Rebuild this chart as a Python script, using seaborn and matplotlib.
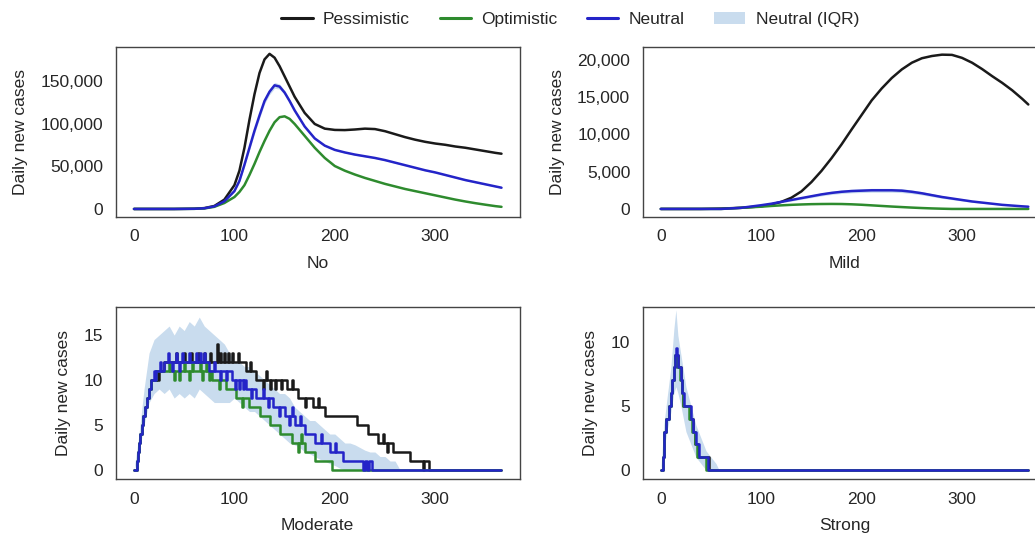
import matplotlib
matplotlib.use("Agg")
import matplotlib.pyplot as plt
from matplotlib.lines import Line2D
from matplotlib.patches import Patch
from matplotlib.ticker import StrMethodFormatter
import pandas as pd
import seaborn as sns

# --- Data (day, daily new cases) ---
SCENARIOS = ["Pessimistic", "Optimistic", "Neutral"]

# "No" intervention: smooth curves sampled at these days
no_days = [0, 20, 40, 60, 70, 80, 90, 100, 105, 110, 115, 120, 125, 130, 135, 140, 145,
           150, 155, 160, 170, 180, 190, 200, 210, 220, 230, 240, 250, 260, 270, 280,
           290, 300, 310, 320, 330, 340, 350, 360, 366]
no_pess = [0, 0, 0, 300, 1000, 3500, 11000, 28000, 45000, 72000, 105000, 135000, 160000,
           176000, 182500, 178000, 168000, 156000, 144000, 132000, 113000, 100000, 94500,
           93000, 92800, 93500, 94500, 94000, 91500, 88000, 84500, 81500, 79000, 77000,
           75500, 73500, 72000, 70000, 68000, 66000, 65000]
no_opt = [0, 0, 0, 150, 600, 2500, 7000, 14000, 20000, 28000, 40000, 53000, 67000, 80000,
          92000, 102000, 108000, 109000, 106000, 100000, 86000, 72000, 60000, 50500, 45000,
          40500, 36500, 33000, 29500, 26500, 23500, 21000, 18500, 16000, 13500, 11000, 8800,
          6800, 5000, 3300, 2500]
no_neut = [0, 0, 0, 200, 800, 3000, 9000, 21000, 33000, 52000, 72000, 92000, 110000, 127000,
           138000, 145500, 144000, 137000, 127000, 116000, 97000, 83000, 74500, 69500, 66500,
           64000, 62000, 60000, 57500, 54500, 51500, 48500, 45500, 43000, 40000, 37000, 34000,
           31500, 29000, 26500, 25000]
no_iqr_lo = [0, 0, 0, 180, 750, 2800, 8500, 19800, 31200, 49500, 69000, 88500, 106500,
             123500, 134500, 142000, 141000, 134500, 125000, 114500, 95800, 82000, 73800,
             68800, 65800, 63300, 61300, 59300, 56800, 53800, 50800, 47800, 44800, 42300,
             39300, 36300, 33300, 30800, 28300, 25800, 24300]
no_iqr_hi = [0, 0, 0, 220, 850, 3200, 9500, 22200, 34800, 54500, 75000, 95500, 113500,
             130500, 141500, 149000, 147000, 139500, 129000, 117500, 98200, 84000, 75200,
             70200, 67200, 64700, 62700, 60700, 58200, 55200, 52200, 49200, 46200, 43700,
             40700, 37700, 34700, 32200, 29700, 27200, 25700]

# "Mild" intervention
mild_days = [0, 20, 40, 60, 80, 100, 110, 120, 130, 140, 150, 160, 170, 180, 190, 200, 210,
             220, 230, 240, 250, 260, 270, 280, 290, 300, 310, 320, 330, 340, 350, 360, 366]
mild_pess = [0, 0, 0, 50, 150, 350, 600, 950, 1500, 2350, 3600, 5100, 6800, 8650, 10650,
             12600, 14550, 16150, 17550, 18700, 19600, 20200, 20500, 20680, 20650, 20250,
             19600, 18750, 17800, 16900, 15900, 14750, 14000]
mild_opt = [0, 0, 0, 0, 150, 300, 400, 480, 550, 600, 640, 660, 670, 660, 620, 560, 480,
            400, 320, 250, 180, 120, 70, 30, 0, 0, 0, 0, 0, 0, 0, 0, 0]
mild_neut = [0, 0, 0, 0, 150, 500, 700, 950, 1200, 1450, 1700, 1950, 2150, 2300, 2400, 2450,
             2500, 2500, 2500, 2450, 2300, 2100, 1850, 1600, 1400, 1200, 1000, 850, 700, 550,
             450, 350, 300]
mild_iqr_lo = [0, 0, 0, 0, 100, 420, 600, 830, 1060, 1290, 1520, 1750, 1940, 2070, 2160,
               2200, 2240, 2240, 2240, 2190, 2060, 1880, 1650, 1420, 1240, 1060, 880, 750,
               620, 480, 390, 300, 250]
mild_iqr_hi = [0, 0, 0, 0, 200, 580, 800, 1070, 1340, 1610, 1880, 2150, 2360, 2530, 2640,
               2700, 2760, 2760, 2760, 2710, 2540, 2320, 2050, 1780, 1560, 1340, 1120, 950,
               780, 620, 510, 400, 350]

# "Moderate" intervention: step series as (day, value) change points
mod_pess = [(0, 0), (3, 1), (4, 2), (5, 3), (6, 4), (8, 5), (9, 6), (11, 7), (13, 8), (15, 9),
            (17, 10), (22, 11), (23, 10), (25, 11), (30, 12), (42, 13), (43, 12), (50, 13),
            (51, 12), (57, 13), (58, 12), (64, 13), (65, 12), (70, 13), (71, 12), (76, 13),
            (77, 12), (83, 14), (84, 12), (86, 13), (87, 12), (90, 13), (91, 12), (94, 13),
            (95, 12), (98, 13), (99, 12), (104, 13), (105, 12), (112, 11), (116, 12),
            (117, 11), (122, 10), (128, 9), (129, 10), (131, 11), (132, 10), (135, 9),
            (136, 10), (140, 9), (141, 10), (146, 9), (147, 10), (152, 9), (157, 10),
            (158, 9), (163, 8), (170, 7), (171, 8), (178, 7), (183, 8), (184, 7), (190, 6),
            (222, 5), (233, 4), (243, 3), (248, 4), (249, 3), (252, 2), (253, 3), (258, 2),
            (275, 1), (288, 0), (289, 1), (294, 0), (366, 0)]
mod_opt = [(0, 0), (3, 1), (4, 2), (5, 3), (6, 4), (8, 5), (9, 6), (11, 7), (13, 8), (15, 9),
           (17, 10), (22, 11), (35, 12), (36, 11), (40, 10), (41, 11), (45, 10), (46, 11),
           (50, 12), (51, 11), (55, 10), (56, 11), (58, 12), (59, 11), (66, 12), (67, 11),
           (68, 10), (69, 11), (72, 12), (73, 11), (75, 10), (76, 11), (78, 10), (85, 9),
           (86, 10), (92, 9), (102, 8), (108, 7), (109, 8), (115, 7), (125, 6), (135, 5),
           (145, 4), (157, 3), (163, 2), (164, 3), (166, 4), (167, 3), (170, 2), (180, 1),
           (197, 0), (366, 0)]
mod_neut = [(0, 0), (3, 1), (4, 2), (5, 3), (6, 4), (8, 5), (9, 6), (11, 7), (13, 8), (15, 9),
            (17, 10), (20, 11), (21, 10), (22, 11), (26, 12), (27, 11), (30, 12), (34, 13),
            (35, 12), (38, 11), (39, 12), (42, 13), (43, 12), (45, 11), (46, 12), (48, 13),
            (49, 12), (55, 13), (56, 12), (62, 13), (63, 12), (66, 13), (67, 12), (70, 13),
            (71, 12), (75, 11), (80, 12), (81, 11), (86, 10), (87, 11), (92, 10), (93, 11),
            (98, 10), (101, 9), (102, 10), (105, 9), (106, 10), (109, 9), (110, 10), (112, 9),
            (117, 8), (118, 9), (122, 8), (128, 9), (129, 8), (133, 7), (134, 8), (138, 7),
            (144, 6), (145, 7), (150, 6), (154, 5), (155, 6), (157, 7), (158, 6), (160, 5),
            (165, 6), (166, 5), (170, 4), (180, 3), (186, 4), (187, 3), (195, 2), (200, 3),
            (201, 2), (208, 1), (228, 0), (230, 1), (232, 0), (234, 1), (237, 0), (366, 0)]
mod_iqr_days = [0, 5, 10, 15, 20, 25, 30, 35, 40, 45, 50, 55, 60, 65, 70, 75, 80, 85, 90, 95,
                100, 105, 110, 115, 120, 125, 130, 135, 140, 145, 150, 155, 160, 165, 170,
                175, 180, 185, 190, 195, 200, 205, 210, 215, 220, 225, 230, 235, 240, 245,
                250, 255, 260, 265]
mod_iqr_hi = [0, 4, 9, 13, 14.5, 15, 15.5, 16, 15, 16, 15.5, 16.5, 16, 17, 16, 15.5, 15, 14.5,
              14, 13, 12, 12, 11.5, 11.5, 11, 10.5, 10, 9.5, 9, 8.5, 8.5, 8, 7, 6.5, 6, 5.5,
              5.5, 5, 4.5, 4, 4, 3.5, 3, 3, 2.8, 2.5, 2.2, 2, 2, 1.5, 1.5, 1, 1, 0]
mod_iqr_lo = [0, 2, 5, 7.5, 8.5, 9, 8.5, 9, 8, 8.5, 8, 8.5, 8, 9, 8.5, 8, 7.5, 7.5, 7.5, 7.5,
              8, 7.5, 7, 6.5, 6.5, 6, 5.5, 5, 4.5, 4, 3.5, 3, 2.8, 2.5, 2, 1.8, 1.5, 1.2, 1,
              0.7, 0.5, 0.2, 0, 0, 0, 0, 0, 0, 0, 0, 0, 0, 0, 0]

# "Strong" intervention
strong_pess = [(0, 0), (2, 1), (3, 3), (5, 4), (8, 5), (10, 6), (11, 7), (13, 8), (14, 9),
               (17, 8), (20, 7), (21, 6), (22, 5), (29, 4), (32, 3), (34, 2), (37, 1),
               (48, 0), (366, 0)]
strong_opt = [(0, 0), (2, 1), (3, 3), (5, 4), (8, 5), (10, 6), (11, 7), (13, 8), (14, 9),
              (16, 8), (19, 7), (21, 6), (22, 5), (28, 4), (31, 3), (34, 2), (36, 1),
              (45, 0), (366, 0)]
strong_neut = [(0, 0), (2, 1), (3, 3), (5, 4), (8, 5), (10, 6), (11, 7), (13, 8), (14, 9),
               (15, 9.5), (16, 9), (17, 8), (20, 7), (21, 6), (23, 5), (30, 4), (32, 3),
               (35, 2), (38, 1), (47, 0), (366, 0)]
strong_iqr_days = [0, 3, 6, 10, 13, 15, 17, 20, 25, 30, 35, 40, 45, 50, 55, 58]
strong_iqr_hi = [0, 3.5, 5.5, 8, 11, 12.5, 10.5, 9, 6.5, 5, 3.5, 2.5, 1.5, 1, 0.5, 0]
strong_iqr_lo = [0, 1.5, 3, 4.5, 6, 6.5, 6, 5, 3, 2, 1, 0.5, 0, 0, 0, 0]

COLORS = {"Pessimistic": "#1a1a1a", "Optimistic": "#2e8b2e", "Neutral": "#2424c8"}
IQR_COLOR = "#c9dcee"


def smooth_frame(days, pess, opt, neut):
    rows = []
    for name, vals in zip(SCENARIOS, [pess, opt, neut]):
        rows += [(name, d, v) for d, v in zip(days, vals)]
    return pd.DataFrame(rows, columns=["scenario", "day", "cases"])


def step_frame(pess, opt, neut):
    rows = []
    for name, pts in zip(SCENARIOS, [pess, opt, neut]):
        rows += [(name, d, v) for d, v in pts]
    return pd.DataFrame(rows, columns=["scenario", "day", "cases"])


def draw_panel(ax, df, band, steps, xlabel, yticks, ylim, fmt):
    ax.fill_between(band[0], band[1], band[2], color=IQR_COLOR, lw=0, zorder=1)
    sns.lineplot(data=df, x="day", y="cases", hue="scenario", hue_order=SCENARIOS,
                 palette=COLORS, lw=1.8, legend=False, ax=ax, estimator=None, sort=False,
                 drawstyle="steps-post" if steps else "default", zorder=2)
    ax.set_xlim(-18, 384)
    ax.set_ylim(*ylim)
    ax.set_xticks([0, 100, 200, 300])
    ax.set_yticks(yticks)
    ax.yaxis.set_major_formatter(StrMethodFormatter(fmt))
    ax.set_xlabel(xlabel, fontsize=12.5, labelpad=8)
    ax.set_ylabel("Daily new cases", fontsize=12.5, labelpad=9)
    ax.tick_params(direction="out", length=5, width=0.9, labelsize=12.5,
                   color="#333333", pad=4)
    for sp in ax.spines.values():
        sp.set_visible(True)
        sp.set_linewidth(1.0)
        sp.set_color("#444444")


sns.set_theme(style="white")
plt.rcParams["font.family"] = ["Liberation Sans", "DejaVu Sans"]

fig = plt.figure(figsize=(10.35, 5.37), dpi=100)
ax_no = fig.add_axes([0.112, 0.596, 0.390, 0.317])
ax_mild = fig.add_axes([0.621, 0.596, 0.390, 0.317])
ax_mod = fig.add_axes([0.112, 0.108, 0.390, 0.320])
ax_strong = fig.add_axes([0.621, 0.108, 0.390, 0.320])

draw_panel(ax_no, smooth_frame(no_days, no_pess, no_opt, no_neut),
           (no_days, no_iqr_lo, no_iqr_hi), False, "No",
           [0, 50000, 100000, 150000], (-9400, 190900), "{x:,.0f}")
draw_panel(ax_mild, smooth_frame(mild_days, mild_pess, mild_opt, mild_neut),
           (mild_days, mild_iqr_lo, mild_iqr_hi), False, "Mild",
           [0, 5000, 10000, 15000, 20000], (-1074, 21745), "{x:,.0f}")
draw_panel(ax_mod, step_frame(mod_pess, mod_opt, mod_neut),
           (mod_iqr_days, mod_iqr_lo, mod_iqr_hi), True, "Moderate",
           [0, 5, 10, 15], (-1.0, 18.1), "{x:.0f}")
draw_panel(ax_strong, step_frame(strong_pess, strong_opt, strong_neut),
           (strong_iqr_days, strong_iqr_lo, strong_iqr_hi), True, "Strong",
           [0, 5, 10], (-0.7, 12.7), "{x:.0f}")

handles = [Line2D([], [], color=COLORS[s], lw=2.2) for s in SCENARIOS]
handles.append(Patch(facecolor=IQR_COLOR, edgecolor="none"))
labels = SCENARIOS + ["Neutral (IQR)"]
fig.legend(handles, labels, loc="center", bbox_to_anchor=(0.551, 0.963), ncol=4,
           frameon=False, fontsize=12.5, handlelength=1.8, handletextpad=0.6,
           columnspacing=1.7)

fig.savefig("out.png", dpi=100)
